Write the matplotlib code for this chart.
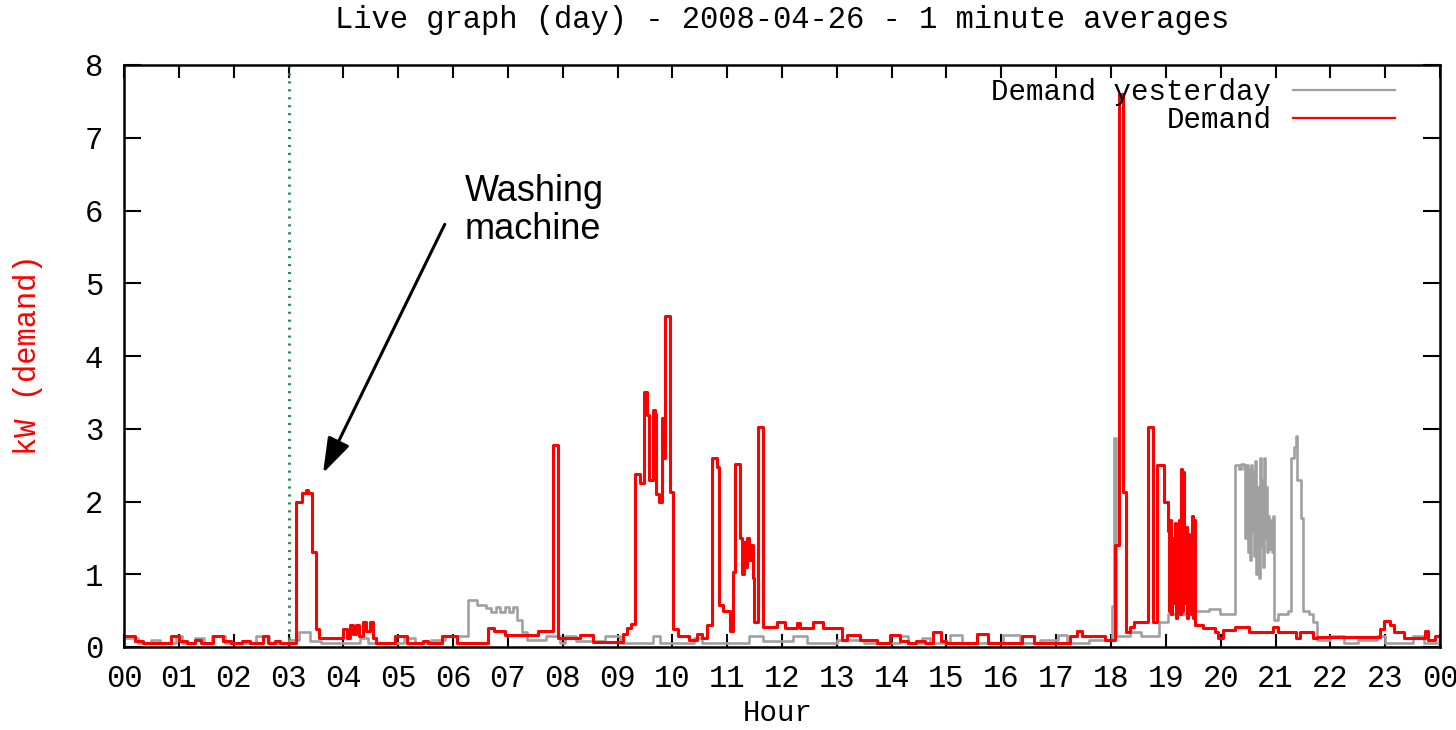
import matplotlib

matplotlib.use("Agg")
import matplotlib.pyplot as plt

# Live electricity demand, 1-minute averages.
# Each pair is (hour of day where the level starts, kW) -> drawn as steps.
TODAY = [
    (0.00, 0.15), (0.20, 0.08), (0.35, 0.05), (0.85, 0.15), (1.00, 0.08), (1.15, 0.05),
    (1.30, 0.10), (1.40, 0.05), (1.63, 0.15), (1.80, 0.08), (1.95, 0.05), (2.15, 0.08),
    (2.30, 0.05), (2.53, 0.15), (2.63, 0.05), (2.75, 0.08), (2.85, 0.05),
    (3.14, 2.00), (3.25, 2.12), (3.32, 2.16), (3.36, 2.12), (3.43, 1.30), (3.50, 0.25),
    (3.55, 0.12), (4.00, 0.25), (4.06, 0.12), (4.12, 0.30), (4.18, 0.18), (4.23, 0.30),
    (4.28, 0.15), (4.35, 0.35), (4.42, 0.22), (4.48, 0.35), (4.54, 0.12), (4.60, 0.05),
    (4.94, 0.15), (5.16, 0.05), (5.45, 0.08), (5.55, 0.05), (5.80, 0.15), (6.07, 0.05),
    (6.64, 0.26), (6.75, 0.22), (6.95, 0.16), (7.55, 0.22), (7.83, 2.78), (7.91, 0.12),
    (8.32, 0.17), (8.55, 0.07), (9.10, 0.18), (9.18, 0.26), (9.25, 0.32),
    (9.32, 2.38), (9.41, 2.25), (9.48, 3.50), (9.53, 3.19), (9.58, 2.30), (9.64, 3.26),
    (9.68, 3.20), (9.71, 2.10), (9.76, 2.00), (9.81, 3.15), (9.84, 2.60), (9.87, 4.55),
    (9.95, 2.13), (10.01, 0.25), (10.10, 0.15), (10.30, 0.10), (10.45, 0.18), (10.55, 0.12),
    (10.63, 0.30), (10.72, 2.60), (10.81, 2.47), (10.86, 0.58), (10.93, 0.50), (11.06, 0.22),
    (11.11, 1.03), (11.14, 2.52), (11.24, 1.50), (11.27, 1.00), (11.30, 1.45), (11.33, 1.10),
    (11.36, 1.50), (11.40, 1.20), (11.43, 1.40), (11.47, 0.95), (11.49, 0.35), (11.57, 3.02),
    (11.66, 0.28), (11.90, 0.35), (12.06, 0.26), (12.28, 0.33), (12.33, 0.26), (12.57, 0.35),
    (12.75, 0.26), (13.10, 0.10), (13.19, 0.16), (13.42, 0.10), (13.73, 0.05), (13.97, 0.16),
    (14.15, 0.08), (14.30, 0.05), (14.45, 0.08), (14.60, 0.05), (14.75, 0.20), (14.90, 0.08),
    (15.00, 0.05), (15.56, 0.18), (15.76, 0.06), (16.38, 0.15), (16.60, 0.05), (17.25, 0.15),
    (17.38, 0.22), (17.47, 0.15), (17.89, 0.10), (18.07, 1.40), (18.15, 7.60), (18.22, 2.13),
    (18.28, 0.20), (18.35, 0.28), (18.42, 0.34), (18.68, 3.02), (18.77, 0.34), (18.84, 2.50),
    (18.97, 2.00), (19.04, 1.60), (19.06, 0.50), (19.08, 1.75), (19.10, 0.45), (19.12, 1.50),
    (19.14, 0.60), (19.16, 1.70), (19.18, 0.40), (19.20, 1.40), (19.22, 0.55), (19.24, 1.75),
    (19.26, 0.45), (19.28, 2.45), (19.30, 0.50), (19.32, 2.40), (19.34, 0.60), (19.36, 1.65),
    (19.38, 0.40), (19.40, 1.55), (19.42, 0.55), (19.44, 1.30), (19.46, 0.45), (19.48, 1.80),
    (19.50, 0.40), (19.52, 1.75), (19.54, 0.30), (19.68, 0.26), (19.90, 0.20), (19.96, 0.13),
    (20.05, 0.24), (20.27, 0.28), (20.52, 0.20), (20.95, 0.28), (21.04, 0.20), (21.38, 0.13),
    (21.44, 0.20), (21.69, 0.13), (21.75, 0.14), (22.90, 0.25), (22.98, 0.36), (23.08, 0.30),
    (23.17, 0.20), (23.35, 0.12), (23.72, 0.22), (23.78, 0.10), (23.90, 0.15), (24.00, 0.10),
]

YESTERDAY = [
    (0.00, 0.12), (0.25, 0.05), (0.50, 0.10), (0.65, 0.05), (0.95, 0.15), (1.05, 0.05),
    (1.30, 0.12), (1.45, 0.05), (1.60, 0.15), (1.85, 0.05), (2.40, 0.15), (2.65, 0.05),
    (3.00, 0.10), (3.20, 0.20), (3.40, 0.08), (3.60, 0.05), (4.30, 0.12), (4.45, 0.05),
    (5.10, 0.12), (5.30, 0.05), (5.60, 0.10), (5.85, 0.15), (6.27, 0.65), (6.43, 0.58),
    (6.60, 0.53), (6.70, 0.48), (6.78, 0.55), (6.85, 0.48), (6.95, 0.55), (7.02, 0.48),
    (7.10, 0.55), (7.17, 0.37), (7.26, 0.20), (7.35, 0.10), (7.70, 0.15), (7.95, 0.05),
    (8.05, 0.15), (8.25, 0.08), (8.77, 0.15), (9.05, 0.05), (9.65, 0.15), (9.78, 0.05),
    (10.40, 0.12), (10.55, 0.05), (11.40, 0.15), (11.65, 0.08), (12.20, 0.15), (12.45, 0.05),
    (13.00, 0.10), (13.50, 0.05), (14.15, 0.15), (14.30, 0.05), (14.55, 0.12), (14.70, 0.05),
    (15.07, 0.16), (15.28, 0.05), (16.03, 0.16), (16.34, 0.05), (16.70, 0.10), (17.03, 0.16),
    (17.20, 0.05), (17.60, 0.10), (18.02, 0.57), (18.06, 2.87), (18.10, 0.15), (18.35, 0.20),
    (18.55, 0.15), (18.87, 0.34), (19.04, 0.45), (19.53, 0.50), (19.78, 0.52), (19.98, 0.45),
    (20.27, 2.50), (20.33, 2.45), (20.37, 2.52), (20.43, 2.45), (20.45, 1.50), (20.47, 2.50),
    (20.49, 1.30), (20.51, 2.45), (20.53, 1.20), (20.55, 2.50), (20.57, 1.60), (20.59, 2.40),
    (20.61, 1.25), (20.63, 2.55), (20.65, 1.00), (20.67, 2.20), (20.69, 0.95), (20.71, 2.60),
    (20.73, 1.40), (20.75, 2.30), (20.77, 1.10), (20.79, 2.60), (20.81, 1.50), (20.83, 2.20),
    (20.85, 1.30), (20.87, 1.80), (20.89, 1.35), (20.91, 1.75), (20.93, 1.30), (20.95, 1.80),
    (20.97, 0.37), (21.04, 0.45), (21.22, 0.50), (21.28, 2.60), (21.34, 2.75), (21.37, 2.90),
    (21.40, 2.30), (21.46, 1.78), (21.50, 0.50), (21.62, 0.45), (21.68, 0.34), (21.75, 0.10),
    (22.00, 0.15), (22.25, 0.05), (22.50, 0.10), (22.85, 0.15), (23.00, 0.05), (23.50, 0.15),
    (23.70, 0.05), (24.00, 0.08),
]

HOUR_LABELS = ["00", "01", "02", "03", "04", "05", "06", "07", "08", "09", "10", "11",
               "12", "13", "14", "15", "16", "17", "18", "19", "20", "21", "22", "23", "00"]
KW_TICKS = [0, 1, 2, 3, 4, 5, 6, 7, 8]
NOW_HOUR = 3.0
TITLE = "Live graph (day) - 2008-04-26 - 1 minute averages"

# annotation: text anchor and arrow (tail -> head), in hour / kW
NOTE_TEXT = "Washing\nmachine"
NOTE_AT = (6.22, 6.50)
ARROW_TAIL = (5.85, 5.81)
ARROW_HEAD = (3.63, 2.39)

MONO = "Liberation Mono"
plt.rcParams["font.family"] = [MONO, "DejaVu Sans Mono"]

fig = plt.figure(figsize=(14.56, 7.3), dpi=100)
W, H = 1456, 730
ax = fig.add_axes([124 / W, 1 - 647 / H, (1440 - 124) / W, (647 - 65) / H])

yh, yk = zip(*YESTERDAY)
th, tk = zip(*TODAY)
ax.plot(yh, yk, drawstyle="steps-post", color="#a0a0a0", lw=1.9, label="Demand yesterday")
ax.plot(th, tk, drawstyle="steps-post", color="#ff0000", lw=2.2, label="Demand")
ax.axvline(NOW_HOUR, color="#2e8b57", lw=2.2, linestyle=(0, (0.7, 1.9)))

ax.set_xlim(0, 24)
ax.set_ylim(0, 8)
ax.set_xticks(range(len(HOUR_LABELS)))
ax.set_xticklabels(HOUR_LABELS)
ax.set_yticks(KW_TICKS)
ax.tick_params(axis="both", direction="in", top=True, right=True, width=1.5,
               labelsize=22, colors="black")
ax.tick_params(axis="x", length=9.4, pad=12)
ax.tick_params(axis="y", length=12, pad=15)
for side in ax.spines.values():
    side.set_linewidth(1.8)

leg = ax.legend(loc="upper right", bbox_to_anchor=(0.966, 0.978), frameon=False,
                markerfirst=False, handlelength=3.5, handletextpad=0.75,
                labelspacing=0.0, fontsize=21, borderaxespad=0, borderpad=0)
for line in leg.get_lines():
    line.set_linewidth(1.6)

ax.text(*NOTE_AT, NOTE_TEXT, ha="left", va="top", fontsize=26,
        family="Liberation Sans", linespacing=1.1)
ax.annotate("", xy=ARROW_HEAD, xytext=ARROW_TAIL,
            arrowprops=dict(arrowstyle="-|>,head_length=1.08,head_width=0.36",
                            mutation_scale=20, lw=2.2, color="black",
                            shrinkA=0, shrinkB=0))

fig.text(782 / W, 1 - 20 / H, TITLE, ha="center", va="center", fontsize=22)
fig.text(28 / W, 1 - 355 / H, "kW (demand)", ha="center", va="center",
         rotation=90, fontsize=22, color="#ff0000")
fig.text(778 / W, 1 - 713 / H, "Hour", ha="center", va="center", fontsize=21)

fig.savefig("out.png", dpi=100)
